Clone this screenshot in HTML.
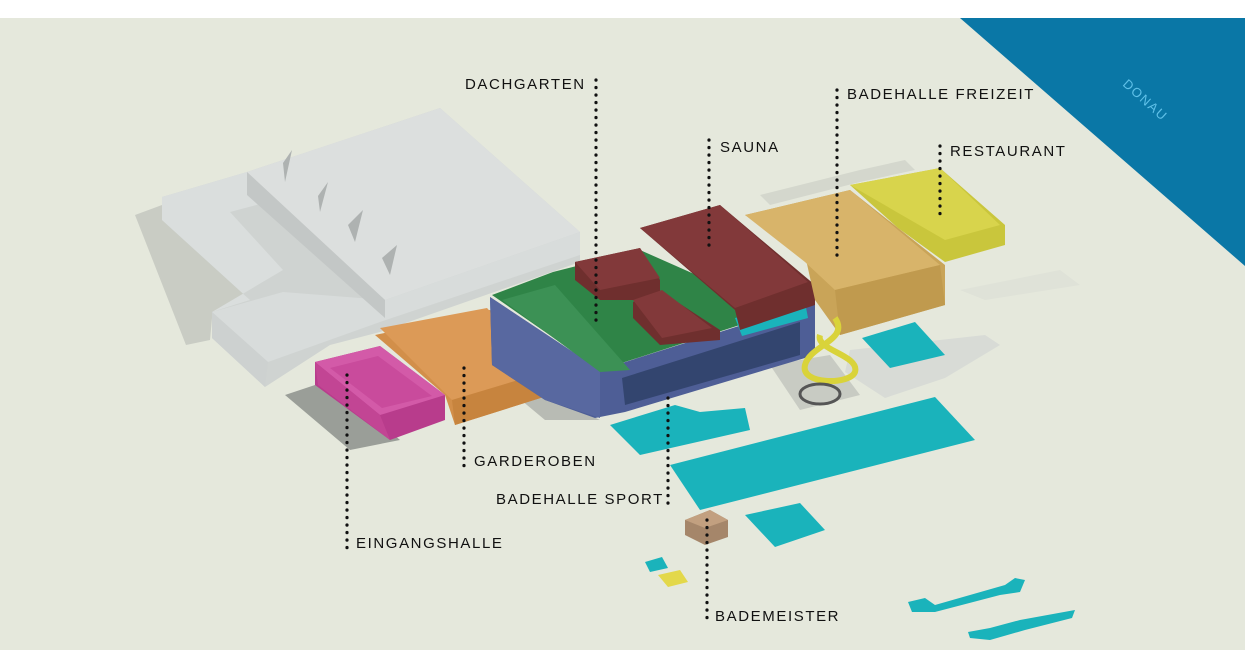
<!DOCTYPE html>
<html><head><style>
html,body{margin:0;padding:0;}
body{width:1245px;height:650px;overflow:hidden;background:#fff;}
svg{display:block;}
text{font-family:"Liberation Sans",sans-serif;font-size:15px;letter-spacing:1.6px;fill:#111;}
</style></head><body>
<svg width="1245" height="650" viewBox="0 0 1245 650">
<rect x="0" y="18" width="1245" height="632" fill="#e5e8dc"/>
<polygon points="960,18 1245,18 1245,266" fill="#0a77a6"/>
<text x="1122" y="85" transform="rotate(42 1122 85)" style="fill:#5fc0e8;font-size:13px">DONAU</text>

<polygon points="135,215 162,205 250,300 212,318 210,340 186,345" fill="#c9ccc4"/>
<polygon points="285,395 330,380 400,440 350,450" fill="#9a9e98"/>
<polygon points="515,395 560,400 600,420 545,420" fill="#b8bbb4"/>
<polygon points="770,365 830,355 860,395 800,410" fill="#c8cbc3"/>

<polygon points="162,197 247,172 440,108 580,232 580,262 380,332 330,345 265,387 212,338 212,312 250,300 162,220" fill="#cfd3d1"/>
<polygon points="162,197 247,172 275,200 230,212 283,270 212,312 250,300 162,220" fill="#dadedd"/>
<polygon points="247,172 440,108 580,232 385,300" fill="#dcdfde"/>
<polygon points="212,312 283,292 385,300 580,232 580,255 380,322 268,362" fill="#d8dcdb"/>
<polygon points="212,312 268,362 265,387 212,338" fill="#cdd1d0"/>
<polygon points="247,172 385,300 385,318 247,195" fill="#c3c7c6"/>
<polygon points="283,163 292,150 285,182" fill="#aeb2b1"/>
<polygon points="318,196 328,182 320,212" fill="#aeb2b1"/>
<polygon points="348,225 363,210 355,242" fill="#aeb2b1"/>
<polygon points="382,258 397,245 390,275" fill="#aeb2b1"/>

<polygon points="375,335 490,310 550,370 550,395 455,425 445,395" fill="#d28f4a"/>
<polygon points="380,328 487,308 545,372 452,400" fill="#dc9a57"/>
<polygon points="452,400 545,372 550,395 455,425" fill="#c7843e"/>

<polygon points="315,362 380,346 445,395 445,420 390,440 315,385" fill="#b83c8c"/>
<polygon points="315,362 380,346 445,395 380,415" fill="#d35aa8"/>
<polygon points="330,368 378,356 432,396 382,408" fill="#c94b9c"/>
<polygon points="315,362 380,415 390,440 318,385" fill="#c24594"/>

<polygon points="490,297 600,370 805,305 815,300 815,355 625,412 595,418 545,400 492,365" fill="#4e5e96"/>
<polygon points="490,297 600,370 600,418 545,400 492,365" fill="#5868a0"/>
<polygon points="622,378 800,322 800,355 625,405" fill="#33456f"/>
<polygon points="492,295 553,272 640,250 780,312 600,370" fill="#2f8447"/>
<polygon points="502,300 555,285 630,370 600,372" fill="#3c9155"/>
<polygon points="735,318 805,302 808,318 742,336" fill="#1ab3bb"/>

<polygon points="640,228 720,205 815,285 815,305 740,330 735,310" fill="#6f2f2e"/>
<polygon points="640,228 720,205 808,282 735,308" fill="#82393a"/>
<polygon points="575,262 640,248 660,280 660,300 600,300 575,280" fill="#6f2f2e"/>
<polygon points="575,262 640,248 660,278 600,290" fill="#82393a"/>
<polygon points="633,302 662,292 720,330 720,340 660,345 633,318" fill="#6f2f2e"/>
<polygon points="633,300 662,290 712,328 662,338" fill="#82393a"/>

<polygon points="745,215 850,190 945,265 945,305 840,335 815,300 805,255" fill="#c9a458"/>
<polygon points="745,215 850,190 940,265 835,290 805,262" fill="#d8b46a"/>
<polygon points="835,290 940,265 945,305 840,335" fill="#c09a4e"/>
<polygon points="760,195 860,170 905,160 915,170 860,182 770,205" fill="#d4d7cd"/>

<polygon points="850,185 940,168 1005,225 1005,245 945,262 898,228" fill="#c9c63c"/>
<polygon points="850,185 940,168 1000,225 945,240" fill="#d8d44c"/>

<polygon points="850,350 985,335 1000,345 945,378 885,398 845,372" fill="#d8dbd6"/>
<polygon points="862,338 915,322 945,355 890,368" fill="#1ab3bb"/>
<polygon points="960,290 1060,270 1080,285 985,300" fill="#dfe2d8"/>

<g fill="none" stroke="#d9d33a" stroke-width="6">
<path d="M835,318 C850,340 810,345 805,365 C800,385 850,385 855,372 C860,355 815,350 820,335"/>
</g>
<ellipse cx="820" cy="394" rx="20" ry="10" fill="none" stroke="#555" stroke-width="3"/>

<polygon points="670,465 935,397 975,440 700,510" fill="#1ab3bb"/>
<polygon points="610,425 675,405 700,412 745,408 750,430 640,455" fill="#1ab3bb"/>
<polygon points="745,515 800,503 825,530 775,547" fill="#1ab3bb"/>
<polygon points="645,562 662,557 668,568 650,572" fill="#1ab3bb"/>
<polygon points="658,575 680,570 688,582 668,587" fill="#e3d84a"/>
<path d="M908,602 L925,598 L935,605 L1005,585 L1015,578 L1025,580 L1020,592 L1000,595 L935,612 L912,612 Z" fill="#1ab3bb"/>
<path d="M968,632 L990,628 L1020,620 L1075,610 L1072,618 L1025,630 L990,640 L970,638 Z" fill="#1ab3bb"/>

<polygon points="685,520 710,510 728,520 728,537 705,545 685,535" fill="#a5866a"/>
<polygon points="685,520 710,510 728,520 705,528" fill="#c2a080"/>

<g stroke="#111" stroke-width="3.2" stroke-linecap="round" stroke-dasharray="0.1 7.4">
<line x1="596" y1="80" x2="596" y2="322"/>
<line x1="709" y1="140" x2="709" y2="250"/>
<line x1="837" y1="90" x2="837" y2="262"/>
<line x1="940" y1="146" x2="940" y2="220"/>
<line x1="464" y1="368" x2="464" y2="466"/>
<line x1="668" y1="398" x2="668" y2="505"/>
<line x1="347" y1="375" x2="347" y2="548"/>
<line x1="707" y1="520" x2="707" y2="622"/>
</g>

<text x="465" y="89">DACHGARTEN</text>
<text x="720" y="152">SAUNA</text>
<text x="847" y="99">BADEHALLE FREIZEIT</text>
<text x="950" y="156">RESTAURANT</text>
<text x="474" y="466">GARDEROBEN</text>
<text x="496" y="504">BADEHALLE SPORT</text>
<text x="356" y="548">EINGANGSHALLE</text>
<text x="715" y="621">BADEMEISTER</text>
</svg>
</body></html>
